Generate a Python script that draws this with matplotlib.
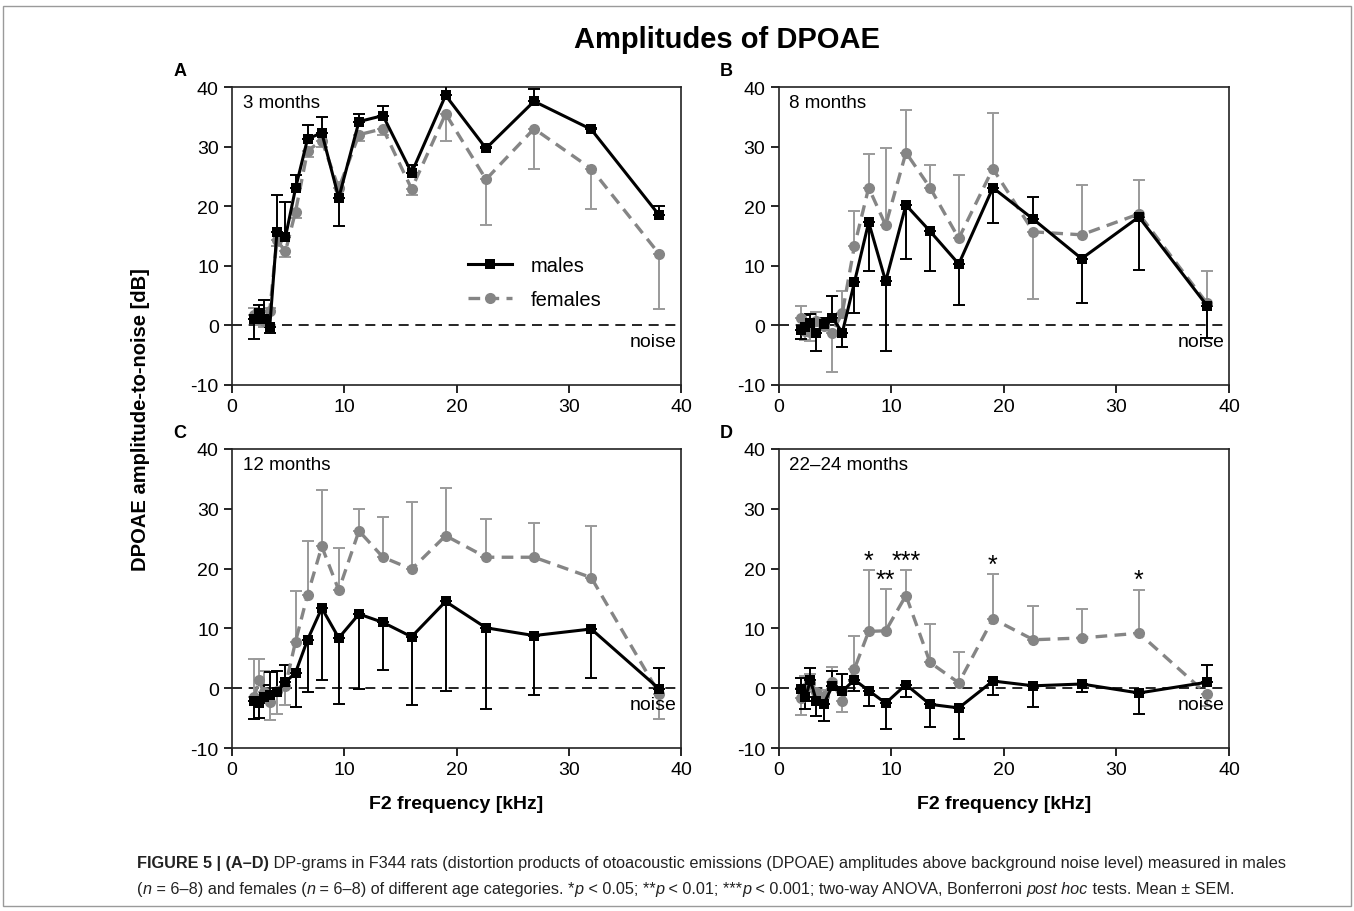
import matplotlib
matplotlib.use("Agg")
import matplotlib.pyplot as plt
from matplotlib.lines import Line2D
from matplotlib.patches import Rectangle
from matplotlib import font_manager

plt.rcParams["font.family"] = ["Liberation Sans", "DejaVu Sans"]
plt.rcParams["axes.unicode_minus"] = False

# F2 frequencies (kHz), quarter-octave steps
freq = [2.0, 2.38, 2.83, 3.36, 4.0, 4.76, 5.66, 6.73, 8.0, 9.51,
        11.31, 13.45, 16.0, 19.03, 22.63, 26.91, 32.0, 38.05]

# amplitudes (dB) and one-sided SEM (sign = bar direction)
males_a = [1.0, 2.1, 1.0, -0.3, 15.6, 14.8, 23.0, 31.3, 32.3, 21.4, 34.2, 35.2, 25.6, 38.6, 29.7, 37.6, 32.9, 18.5]
males_a_err = [-3.2, 1.3, 3.2, -0.9, 6.2, 5.9, 2.2, 2.4, 2.7, -4.7, 1.2, 1.6, 1.3, 1.6, 0.3, 2.1, 0.3, 1.6]
females_a = [1.8, 1.0, 0.8, 2.4, 14.3, 12.4, 19.1, 29.3, 31.0, 23.0, 32.0, 33.0, 22.9, 35.5, 24.5, 33.0, 26.3, 12.0]
females_a_err = [1.2, -1.0, -1.0, 0.6, -1.0, -1.0, -1.0, -1.0, -1.0, 1.0, -1.0, -1.0, -1.0, -4.5, -7.7, -6.7, -6.7, -9.2]

males_b = [-0.7, -0.2, 0.4, -1.2, 0.2, 1.3, -1.2, 7.2, 17.3, 7.4, 20.2, 15.8, 10.3, 23.1, 17.8, 11.2, 18.2, 3.3]
males_b_err = [-1.5, 2.0, 1.5, -3.1, 1.0, 3.6, -2.5, -5.2, -8.1, -11.7, -9.0, -6.6, -6.9, -5.9, 3.7, -7.4, -8.9, -5.4]
females_b = [1.3, -0.9, -1.1, 0.7, -0.1, -1.2, 2.1, 13.3, 23.1, 16.8, 29.0, 23.1, 14.6, 26.3, 15.7, 15.2, 18.7, 3.7]
females_b_err = [1.9, -1.6, -1.5, 1.6, 1.0, -6.7, 3.7, 5.9, 5.6, 12.9, 7.2, 3.8, 10.6, 9.4, -11.2, 8.3, 5.7, 5.5]

males_c = [-2.1, -2.4, -1.5, -1.1, -0.6, 1.0, 2.6, 8.1, 13.4, 8.4, 12.4, 11.0, 8.6, 14.5, 10.1, 8.8, 9.9, -0.1]
males_c_err = [-3.0, -2.6, 2.0, 3.8, 3.5, 2.9, -5.8, -8.8, -12.1, -11.1, -12.5, -7.9, -11.4, -15.0, -13.6, -10.0, -8.2, 3.4]
females_c = [-1.5, 1.3, -0.7, -2.3, -0.4, 0.4, 7.8, 15.6, 23.7, 16.4, 26.3, 21.9, 19.9, 25.5, 21.9, 21.9, 18.5, -0.9]
females_c_err = [6.4, 3.5, 3.5, -3.0, -3.9, -3.2, 8.4, 9.0, 9.4, 7.0, 3.7, 6.7, 11.2, 7.9, 6.4, 5.7, 8.6, -4.2]

males_d = [-0.1, -1.5, 1.3, -2.2, -2.7, 0.3, -0.5, 1.4, -0.4, -2.5, 0.6, -2.7, -3.3, 1.2, 0.4, 0.7, -0.8, 1.0]
males_d_err = [1.8, -2.0, 2.0, -2.4, -2.8, 2.5, 2.9, -1.8, -2.5, -4.3, -2.0, -3.8, -5.2, -2.4, -3.6, -1.4, -3.5, 2.9]
females_d = [-1.7, 0.1, 0.8, -0.7, -1.3, 1.1, -2.1, 3.2, 9.5, 9.6, 15.5, 4.3, 0.9, 11.6, 8.1, 8.4, 9.2, -1.0]
females_d_err = [-2.8, 2.0, 1.5, -1.5, 1.0, 2.4, -1.8, 5.6, 10.2, 7.0, 4.2, 6.5, 5.2, 7.5, 5.7, 4.9, 7.3, -1.9]

# significance marks in panel D
sig_freq_idx = [8, 9, 10, 13, 16]
sig_labels = ["*", "**", "***", "*", "*"]

panel_letters = ["A", "B", "C", "D"]
panel_ages = ["3 months", "8 months", "12 months", "22\u201324 months"]

MALE_COLOR = "black"
FEMALE_COLOR = "#858585"
FEMALE_ERR = "#9a9a9a"


def _split(err):
    lower = [max(-e, 0.0) for e in err]
    upper = [max(e, 0.0) for e in err]
    return [lower, upper]


def draw_panel(ax, males, males_err, females, females_err, age, legend=False):
    ax.axhline(0, color="black", lw=1.2, dashes=(6, 4), zorder=1)
    ax.errorbar(freq, females, yerr=_split(females_err), fmt="none", ecolor=FEMALE_ERR,
                elinewidth=1.4, capsize=4.2, capthick=1.4, zorder=2)
    ax.errorbar(freq, males, yerr=_split(males_err), fmt="none", ecolor=MALE_COLOR,
                elinewidth=1.4, capsize=4.2, capthick=1.4, zorder=3)
    ax.plot(freq, females, color=FEMALE_COLOR, lw=2.4, dashes=(3.5, 2.2), marker="o",
            markersize=8, markeredgewidth=0, zorder=4, label="females")
    ax.plot(freq, males, color=MALE_COLOR, lw=2.2, marker="s", markersize=7.5,
            markeredgewidth=0, zorder=5, label="males")
    ax.set_xlim(0, 40)
    ax.set_ylim(-10, 40)
    ax.set_xticks([0, 10, 20, 30, 40])
    ax.set_yticks([-10, 0, 10, 20, 30, 40])
    ax.tick_params(direction="out", length=6, width=1.2, labelsize=14, top=False, right=False)
    for spine in ax.spines.values():
        spine.set_linewidth(1.2)
        spine.set_color("#222222")
    ax.text(0.024, 0.975, age, transform=ax.transAxes, ha="left", va="top", fontsize=13.5)
    ax.text(39.6, -1.3, "noise", ha="right", va="top", fontsize=14)
    if legend:
        handles = [
            Line2D([], [], color=MALE_COLOR, lw=2.2, marker="s", markersize=7.5, markeredgewidth=0),
            Line2D([], [], color=FEMALE_COLOR, lw=2.4, dashes=(3.5, 2.2), marker="o", markersize=8,
                   markeredgewidth=0),
        ]
        ax.legend(handles, ["males", "females"], loc="upper left", bbox_to_anchor=(0.485, 0.495),
                  frameon=False, fontsize=14.5, handlelength=2.2, labelspacing=0.75, handletextpad=0.9)


fig = plt.figure(figsize=(13.54, 9.12), dpi=100)

W, H = 1354.0, 912.0
boxes = [
    (232, 88, 681, 386),
    (778.6, 88, 1229, 386),
    (232, 450, 681, 749),
    (778.6, 450, 1229, 749),
]
axes = []
for (x0, y0, x1, y1) in boxes:
    axes.append(fig.add_axes([x0 / W, 1 - y1 / H, (x1 - x0) / W, (y1 - y0) / H]))

data = [
    (males_a, males_a_err, females_a, females_a_err),
    (males_b, males_b_err, females_b, females_b_err),
    (males_c, males_c_err, females_c, females_c_err),
    (males_d, males_d_err, females_d, females_d_err),
]
for i, ax in enumerate(axes):
    m, me, f, fe = data[i]
    draw_panel(ax, m, me, f, fe, panel_ages[i], legend=(i == 0))

# significance stars
axd = axes[3]
for idx, lab in zip(sig_freq_idx, sig_labels):
    top = females_d[idx] + max(females_d_err[idx], 0)
    axd.text(freq[idx], top + 0.4, lab, ha="center", va="baseline", fontsize=18)

# panel letters
for letter, (x0, y0, x1, y1) in zip(panel_letters, boxes):
    fig.text((x0 - 52) / W, 1 - (y0 - 16) / H, letter, ha="center", va="center",
             fontsize=13, fontweight="bold")

fig.text(727 / W, 1 - 40 / H, "Amplitudes of DPOAE", ha="center", va="center",
         fontsize=21, fontweight="bold")
fig.text(140 / W, 1 - 420 / H, "DPOAE amplitude-to-noise [dB]", ha="center", va="center",
         rotation=90, fontsize=14.5, fontweight="bold")
fig.text(456.5 / W, 1 - 805 / H, "F2 frequency [kHz]", ha="center", va="center",
         fontsize=14, fontweight="bold")
fig.text(1003.8 / W, 1 - 805 / H, "F2 frequency [kHz]", ha="center", va="center",
         fontsize=14, fontweight="bold")

# outer frame
fig.patches.append(Rectangle((0.002, 0.006), 0.996, 0.986, transform=fig.transFigure,
                             fill=False, edgecolor="#9a9a9a", lw=1.0))

# caption, drawn piece by piece to mix styles
names = {f.name for f in font_manager.fontManager.ttflist}
cap_family = ["Liberation Sans Narrow"] if "Liberation Sans Narrow" in names else ["Liberation Sans"]
cap_size = 13.5 if "Liberation Sans Narrow" in names else 11.7

line1 = [
    ("FIGURE 5 | (A\u2013D)", "normal", "bold"),
    (" DP-grams in F344 rats (distortion products of otoacoustic emissions (DPOAE) amplitudes "
     "above background noise level) measured in males", "normal", "normal"),
]
line2 = [
    ("(", "normal", "normal"), ("n", "italic", "normal"),
    (" = 6\u20138) and females (", "normal", "normal"), ("n", "italic", "normal"),
    (" = 6\u20138) of different age categories. *", "normal", "normal"), ("p", "italic", "normal"),
    (" < 0.05; **", "normal", "normal"), ("p", "italic", "normal"),
    (" < 0.01; ***", "normal", "normal"), ("p", "italic", "normal"),
    (" < 0.001; two-way ANOVA, Bonferroni ", "normal", "normal"), ("post hoc", "italic", "normal"),
    (" tests. Mean \u00b1 SEM.", "normal", "normal"),
]

renderer = fig.canvas.get_renderer()


def draw_line(parts, x_px, y_px):
    x = x_px
    for txt, style, weight in parts:
        t = fig.text(x / W, 1 - y_px / H, txt, ha="left", va="baseline", fontsize=cap_size,
                     family=cap_family, style=style, fontweight=weight, color="#222222")
        bb = t.get_window_extent(renderer=renderer)
        x += bb.width


draw_line(line1, 137, 868)
draw_line(line2, 137, 894)

fig.savefig("out.png", dpi=100)
